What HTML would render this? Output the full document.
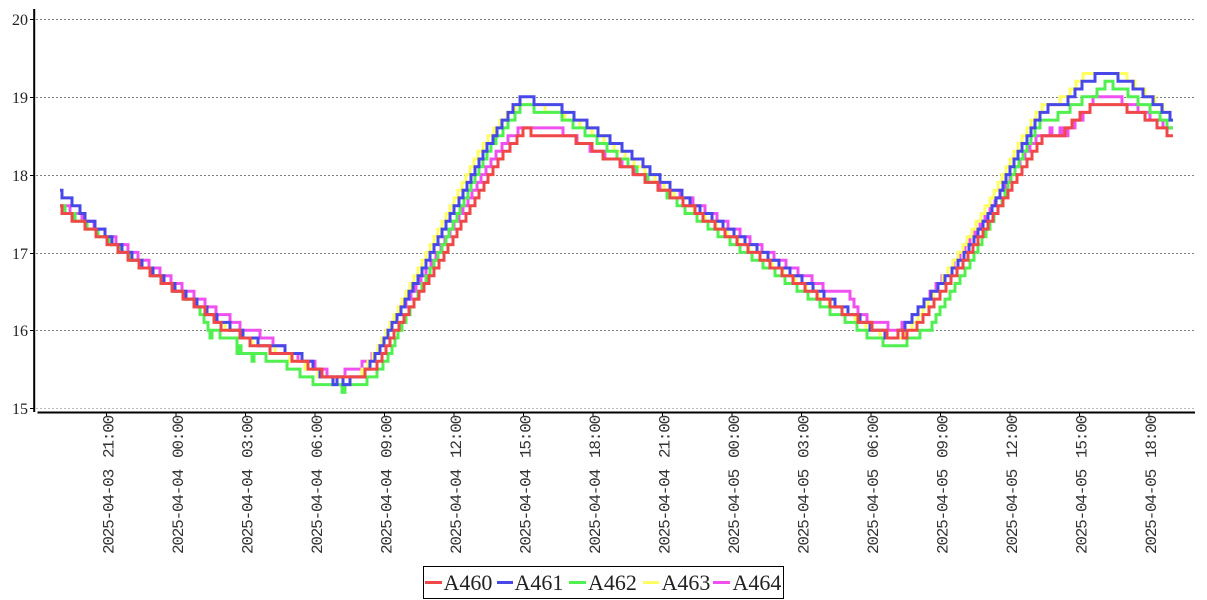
<!DOCTYPE html>
<html><head><meta charset="utf-8"><style>
html,body{margin:0;padding:0;background:#fff;}
svg{display:block;}
</style></head><body>
<svg width="1207" height="600" viewBox="0 0 1207 600" xmlns="http://www.w3.org/2000/svg">
<rect width="1207" height="600" fill="#fff"/>
<g stroke="#808080" stroke-width="1" stroke-dasharray="2,2" fill="none">
<line x1="36" y1="19.5" x2="1195" y2="19.5"/>
<line x1="36" y1="97.5" x2="1195" y2="97.5"/>
<line x1="36" y1="175.5" x2="1195" y2="175.5"/>
<line x1="36" y1="253.5" x2="1195" y2="253.5"/>
<line x1="36" y1="330.5" x2="1195" y2="330.5"/>
<line x1="36" y1="408.5" x2="1195" y2="408.5" stroke="#bbb"/>
</g>
<g fill="none" stroke-width="3" stroke-linejoin="miter">
<path stroke="#f050f0" d="M60 205.7 H70 V213.5 H82 V221.3 H94 V229.1 H105 V236.8 H116 V244.6 H128 V252.4 H138 V260.2 H149 V268 H160 V275.7 H171 V283.5 H182 V291.3 H194 V299.1 H205 V306.9 H216 V314.6 H230 V322.4 H240 V330.2 H260 V338 H273 V345.8 H285 V353.5 H298 V361.3 H315 V369.1 H327 V376.9 H345 V369.1 H362 V361.3 H372 V353.5 H378 V345.8 H382 V338 H386 V330.2 H391 V322.4 H396 V314.6 H401 V306.9 H406 V299.1 H411 V291.3 H416 V283.5 H421 V275.7 H426 V268 H431 V260.2 H436 V252.4 H441 V244.6 H445 V236.8 H450 V229.1 H454 V221.3 H459 V213.5 H463 V205.7 H468 V197.9 H472 V190.2 H477 V182.4 H481 V174.6 H486 V166.8 H491 V159 H496 V151.3 H502 V143.5 H508 V135.7 H518 V127.9 H563 V135.7 H577 V143.5 H590 V151.3 H605 V159 H622 V166.8 H635 V174.6 H648 V182.4 H660 V190.2 H680 V197.9 H693 V205.7 H705 V213.5 H717 V221.3 H728 V229.1 H740 V236.8 H750 V244.6 H762 V252.4 H774 V260.2 H786 V268 H798 V275.7 H812 V283.5 H823 V291.3 H850 V299.1 H854 V306.9 H858 V314.6 H867 V322.4 H888 V330.2 H902 V322.4 H912 V314.6 H918 V306.9 H924 V299.1 H930 V291.3 H936 V283.5 H942 V275.7 H948 V268 H954 V260.2 H960 V252.4 H965 V244.6 H970 V236.8 H975 V229.1 H980 V221.3 H985 V213.5 H990 V205.7 H995 V197.9 H1000 V190.2 H1005 V182.4 H1010 V174.6 H1015 V166.8 H1020 V159 H1025 V151.3 H1030 V143.5 H1036 V135.7 H1050 V127.9 H1052 V135.7 H1060 V127.9 H1062 V135.7 H1068 V127.9 H1075 V120.1 H1083 V112.4 H1090 V104.6 H1093 V96.8 H1122 V104.6 H1138 V112.4 H1150 V120.1 H1163 V127.9 H1173"/>
<path stroke="#ffff60" d="M60 205.7 H64 V213.5 H74 V221.3 H86 V229.1 H97 V236.8 H109 V244.6 H120 V252.4 H130 V260.2 H141 V268 H151 V275.7 H162 V283.5 H173 V291.3 H184 V299.1 H195 V306.9 H205 V314.6 H215 V322.4 H225 V330.2 H240 V338 H252 V345.8 H275 V353.5 H290 V361.3 H305 V369.1 H318 V376.9 H362 V369.1 H368 V361.3 H373 V353.5 H378 V345.8 H382 V338 H386 V330.2 H390 V322.4 H394 V314.6 H398 V306.9 H402 V299.1 H406 V291.3 H410 V283.5 H414 V275.7 H418 V268 H422 V260.2 H426 V252.4 H430 V244.6 H434 V236.8 H438 V229.1 H442 V221.3 H446 V213.5 H450 V205.7 H454 V197.9 H458 V190.2 H462 V182.4 H466 V174.6 H470 V166.8 H474 V159 H478 V151.3 H483 V143.5 H488 V135.7 H494 V127.9 H500 V120.1 H507 V112.4 H515 V104.6 H545 V112.4 H565 V120.1 H580 V127.9 H592 V135.7 H604 V143.5 H614 V151.3 H625 V159 H634 V166.8 H645 V174.6 H655 V182.4 H664 V190.2 H674 V197.9 H683 V205.7 H694 V213.5 H705 V221.3 H716 V229.1 H727 V236.8 H738 V244.6 H749 V252.4 H760 V260.2 H772 V268 H783 V275.7 H795 V283.5 H806 V291.3 H818 V299.1 H829 V306.9 H842 V314.6 H855 V322.4 H866 V330.2 H880 V338 H905 V330.2 H912 V322.4 H918 V314.6 H923 V306.9 H928 V299.1 H933 V291.3 H938 V283.5 H943 V275.7 H948 V268 H953 V260.2 H958 V252.4 H963 V244.6 H967 V236.8 H972 V229.1 H976 V221.3 H981 V213.5 H985 V205.7 H990 V197.9 H994 V190.2 H998 V182.4 H1002 V174.6 H1006 V166.8 H1010 V159 H1014 V151.3 H1018 V143.5 H1022 V135.7 H1027 V127.9 H1031 V120.1 H1036 V112.4 H1042 V104.6 H1060 V96.8 H1070 V89 H1076 V81.2 H1083 V73.5 H1127 V81.2 H1135 V89 H1145 V96.8 H1155 V104.6 H1163 V112.4 H1170 V120.1 H1173"/>
<path stroke="#50f050" d="M60 205.7 H65 V213.5 H75 V221.3 H87 V229.1 H98 V236.8 H110 V244.6 H121 V252.4 H131 V260.2 H142 V268 H152 V275.7 H163 V283.5 H174 V291.3 H185 V299.1 H195 V306.9 H200 V314.6 H204 V322.4 H208 V330.2 H210 V338 H212 V330.2 H220 V338 H237 V353.5 H239 V345.8 H241 V353.5 H252 V361.3 H254 V353.5 H266 V361.3 H287 V369.1 H300 V376.9 H313 V384.6 H342 V392.4 H345 V384.6 H367 V376.9 H377 V369.1 H383 V361.3 H388 V353.5 H392 V345.8 H395 V338 H398 V330.2 H402 V322.4 H406 V314.6 H410 V306.9 H414 V299.1 H418 V291.3 H422 V283.5 H426 V275.7 H430 V268 H434 V260.2 H438 V252.4 H442 V244.6 H446 V236.8 H449 V229.1 H453 V221.3 H457 V213.5 H460 V205.7 H464 V197.9 H468 V190.2 H471 V182.4 H475 V174.6 H479 V166.8 H483 V159 H487 V151.3 H491 V143.5 H496 V135.7 H503 V127.9 H508 V120.1 H515 V112.4 H520 V104.6 H534 V112.4 H562 V120.1 H573 V127.9 H585 V135.7 H597 V143.5 H607 V151.3 H617 V159 H628 V166.8 H637 V174.6 H648 V182.4 H658 V190.2 H667 V197.9 H677 V205.7 H685 V213.5 H697 V221.3 H708 V229.1 H718 V236.8 H730 V244.6 H740 V252.4 H752 V260.2 H763 V268 H775 V275.7 H785 V283.5 H797 V291.3 H808 V299.1 H820 V306.9 H830 V314.6 H845 V322.4 H857 V330.2 H867 V338 H883 V345.8 H907 V338 H920 V330.2 H932 V322.4 H936 V314.6 H940 V306.9 H945 V299.1 H950 V291.3 H955 V283.5 H960 V275.7 H965 V268 H970 V260.2 H974 V252.4 H978 V244.6 H982 V236.8 H986 V229.1 H990 V221.3 H994 V213.5 H998 V205.7 H1002 V197.9 H1005 V190.2 H1008 V182.4 H1011 V174.6 H1015 V166.8 H1019 V159 H1023 V151.3 H1027 V143.5 H1031 V135.7 H1035 V127.9 H1040 V120.1 H1058 V112.4 H1070 V104.6 H1082 V96.8 H1097 V89 H1105 V81.2 H1113 V89 H1128 V96.8 H1138 V104.6 H1150 V112.4 H1160 V120.1 H1167 V127.9 H1173"/>
<path stroke="#4848e8" d="M60 190.2 H62 V197.9 H72 V205.7 H80 V213.5 H85 V221.3 H95 V229.1 H105 V236.8 H112 V244.6 H122 V252.4 H132 V260.2 H142 V268 H153 V275.7 H164 V283.5 H175 V291.3 H186 V299.1 H197 V306.9 H207 V314.6 H217 V322.4 H230 V330.2 H243 V338 H258 V345.8 H285 V353.5 H302 V361.3 H313 V369.1 H320 V376.9 H333 V384.6 H337 V376.9 H343 V384.6 H350 V376.9 H365 V369.1 H370 V361.3 H375 V353.5 H380 V345.8 H384 V338 H388 V330.2 H392 V322.4 H397 V314.6 H401 V306.9 H405 V299.1 H409 V291.3 H413 V283.5 H418 V275.7 H422 V268 H426 V260.2 H430 V252.4 H434 V244.6 H438 V236.8 H442 V229.1 H446 V221.3 H450 V213.5 H454 V205.7 H459 V197.9 H463 V190.2 H467 V182.4 H471 V174.6 H475 V166.8 H479 V159 H483 V151.3 H487 V143.5 H493 V135.7 H497 V127.9 H502 V120.1 H508 V112.4 H513 V104.6 H520 V96.8 H534 V104.6 H562 V112.4 H574 V120.1 H587 V127.9 H598 V135.7 H610 V143.5 H622 V151.3 H632 V159 H643 V166.8 H650 V174.6 H660 V182.4 H670 V190.2 H682 V197.9 H690 V205.7 H700 V213.5 H712 V221.3 H723 V229.1 H734 V236.8 H745 V244.6 H757 V252.4 H768 V260.2 H779 V268 H790 V275.7 H802 V283.5 H813 V291.3 H824 V299.1 H835 V306.9 H848 V314.6 H860 V322.4 H870 V330.2 H885 V338 H898 V330.2 H905 V322.4 H912 V314.6 H918 V306.9 H924 V299.1 H931 V291.3 H938 V283.5 H945 V275.7 H952 V268 H958 V260.2 H964 V252.4 H969 V244.6 H974 V236.8 H978 V229.1 H983 V221.3 H988 V213.5 H992 V205.7 H996 V197.9 H1000 V190.2 H1003 V182.4 H1006 V174.6 H1010 V166.8 H1014 V159 H1018 V151.3 H1022 V143.5 H1027 V135.7 H1031 V127.9 H1035 V120.1 H1040 V112.4 H1048 V104.6 H1068 V96.8 H1075 V89 H1082 V81.2 H1095 V73.5 H1118 V81.2 H1133 V89 H1143 V96.8 H1153 V104.6 H1162 V112.4 H1170 V120.1 H1173"/>
<path stroke="#f04848" d="M60 205.7 H62 V213.5 H72 V221.3 H85 V229.1 H96 V236.8 H107 V244.6 H118 V252.4 H128 V260.2 H139 V268 H150 V275.7 H161 V283.5 H172 V291.3 H183 V299.1 H194 V306.9 H205 V314.6 H214 V322.4 H221 V330.2 H240 V338 H250 V345.8 H270 V353.5 H292 V361.3 H308 V369.1 H322 V376.9 H365 V369.1 H377 V361.3 H382 V353.5 H386 V345.8 H390 V338 H394 V330.2 H399 V322.4 H404 V314.6 H409 V306.9 H414 V299.1 H419 V291.3 H424 V283.5 H429 V275.7 H434 V268 H439 V260.2 H444 V252.4 H448 V244.6 H453 V236.8 H457 V229.1 H461 V221.3 H466 V213.5 H470 V205.7 H475 V197.9 H479 V190.2 H484 V182.4 H488 V174.6 H493 V166.8 H498 V159 H503 V151.3 H510 V143.5 H517 V135.7 H523 V127.9 H531 V135.7 H576 V143.5 H592 V151.3 H603 V159 H620 V166.8 H633 V174.6 H645 V182.4 H658 V190.2 H670 V197.9 H683 V205.7 H695 V213.5 H703 V221.3 H715 V229.1 H725 V236.8 H737 V244.6 H748 V252.4 H760 V260.2 H770 V268 H782 V275.7 H793 V283.5 H805 V291.3 H817 V299.1 H830 V306.9 H842 V314.6 H858 V322.4 H872 V330.2 H887 V338 H898 V330.2 H903 V338 H907 V330.2 H917 V322.4 H923 V314.6 H929 V306.9 H934 V299.1 H940 V291.3 H946 V283.5 H951 V275.7 H957 V268 H963 V260.2 H968 V252.4 H973 V244.6 H978 V236.8 H983 V229.1 H988 V221.3 H993 V213.5 H998 V205.7 H1003 V197.9 H1008 V190.2 H1012 V182.4 H1017 V174.6 H1022 V166.8 H1027 V159 H1032 V151.3 H1037 V143.5 H1042 V135.7 H1065 V127.9 H1072 V120.1 H1080 V112.4 H1090 V104.6 H1127 V112.4 H1145 V120.1 H1157 V127.9 H1167 V135.7 H1173"/>
</g>
<g stroke="#000" fill="none">
<line x1="34.2" y1="9" x2="34.2" y2="412" stroke-width="2"/>
<line x1="37.5" y1="412.5" x2="1195" y2="412.5" stroke-width="2"/>
<g stroke-width="1">
<line x1="30" y1="19.5" x2="34" y2="19.5"/>
<line x1="30" y1="97.5" x2="34" y2="97.5"/>
<line x1="30" y1="175.5" x2="34" y2="175.5"/>
<line x1="30" y1="253.5" x2="34" y2="253.5"/>
<line x1="30" y1="330.5" x2="34" y2="330.5"/>
<line x1="30" y1="408.5" x2="34" y2="408.5"/>
<line x1="106.5" y1="413" x2="106.5" y2="416"/>
<line x1="176" y1="413" x2="176" y2="416"/>
<line x1="245.5" y1="413" x2="245.5" y2="416"/>
<line x1="315" y1="413" x2="315" y2="416"/>
<line x1="384.5" y1="413" x2="384.5" y2="416"/>
<line x1="454" y1="413" x2="454" y2="416"/>
<line x1="523.5" y1="413" x2="523.5" y2="416"/>
<line x1="593" y1="413" x2="593" y2="416"/>
<line x1="662.5" y1="413" x2="662.5" y2="416"/>
<line x1="732" y1="413" x2="732" y2="416"/>
<line x1="801.5" y1="413" x2="801.5" y2="416"/>
<line x1="871" y1="413" x2="871" y2="416"/>
<line x1="940.5" y1="413" x2="940.5" y2="416"/>
<line x1="1010" y1="413" x2="1010" y2="416"/>
<line x1="1079.5" y1="413" x2="1079.5" y2="416"/>
<line x1="1149" y1="413" x2="1149" y2="416"/>
</g>
</g>
<g font-family="Liberation Serif, serif" font-size="16" fill="#222" text-anchor="end">
<text x="28" y="25">20</text>
<text x="28" y="103">19</text>
<text x="28" y="181">18</text>
<text x="28" y="259">17</text>
<text x="28" y="336">16</text>
<text x="28" y="414">15</text>
</g>
<g font-family="Liberation Mono, monospace" font-size="16" letter-spacing="-1.2" fill="#333" text-anchor="end">
<text transform="translate(113.5,416) rotate(-90)">21:00</text>
<text transform="translate(113.5,470) rotate(-90)">2025-04-03</text>
<text transform="translate(183,416) rotate(-90)">00:00</text>
<text transform="translate(183,470) rotate(-90)">2025-04-04</text>
<text transform="translate(252.5,416) rotate(-90)">03:00</text>
<text transform="translate(252.5,470) rotate(-90)">2025-04-04</text>
<text transform="translate(322,416) rotate(-90)">06:00</text>
<text transform="translate(322,470) rotate(-90)">2025-04-04</text>
<text transform="translate(391.5,416) rotate(-90)">09:00</text>
<text transform="translate(391.5,470) rotate(-90)">2025-04-04</text>
<text transform="translate(461,416) rotate(-90)">12:00</text>
<text transform="translate(461,470) rotate(-90)">2025-04-04</text>
<text transform="translate(530.5,416) rotate(-90)">15:00</text>
<text transform="translate(530.5,470) rotate(-90)">2025-04-04</text>
<text transform="translate(600,416) rotate(-90)">18:00</text>
<text transform="translate(600,470) rotate(-90)">2025-04-04</text>
<text transform="translate(669.5,416) rotate(-90)">21:00</text>
<text transform="translate(669.5,470) rotate(-90)">2025-04-04</text>
<text transform="translate(739,416) rotate(-90)">00:00</text>
<text transform="translate(739,470) rotate(-90)">2025-04-05</text>
<text transform="translate(808.5,416) rotate(-90)">03:00</text>
<text transform="translate(808.5,470) rotate(-90)">2025-04-05</text>
<text transform="translate(878,416) rotate(-90)">06:00</text>
<text transform="translate(878,470) rotate(-90)">2025-04-05</text>
<text transform="translate(947.5,416) rotate(-90)">09:00</text>
<text transform="translate(947.5,470) rotate(-90)">2025-04-05</text>
<text transform="translate(1017,416) rotate(-90)">12:00</text>
<text transform="translate(1017,470) rotate(-90)">2025-04-05</text>
<text transform="translate(1086.5,416) rotate(-90)">15:00</text>
<text transform="translate(1086.5,470) rotate(-90)">2025-04-05</text>
<text transform="translate(1156,416) rotate(-90)">18:00</text>
<text transform="translate(1156,470) rotate(-90)">2025-04-05</text>
</g>
<rect x="423.5" y="566.5" width="360" height="32" fill="#fff" stroke="#000" stroke-width="1"/>
<g stroke-width="3">
<line x1="425" y1="582.5" x2="442" y2="582.5" stroke="#f04848"/>
<line x1="497" y1="582.5" x2="513" y2="582.5" stroke="#4848e8"/>
<line x1="569" y1="582.5" x2="586" y2="582.5" stroke="#50f050"/>
<line x1="643" y1="582.5" x2="659" y2="582.5" stroke="#ffff60"/>
<line x1="713" y1="582.5" x2="730" y2="582.5" stroke="#f050f0"/>
</g>
<g font-family="Liberation Serif, serif" font-size="22" fill="#222">
<text x="443.5" y="590">A460</text>
<text x="514.5" y="590">A461</text>
<text x="588" y="590">A462</text>
<text x="661.5" y="590">A463</text>
<text x="732.5" y="590">A464</text>
</g>
</svg>
</body></html>
